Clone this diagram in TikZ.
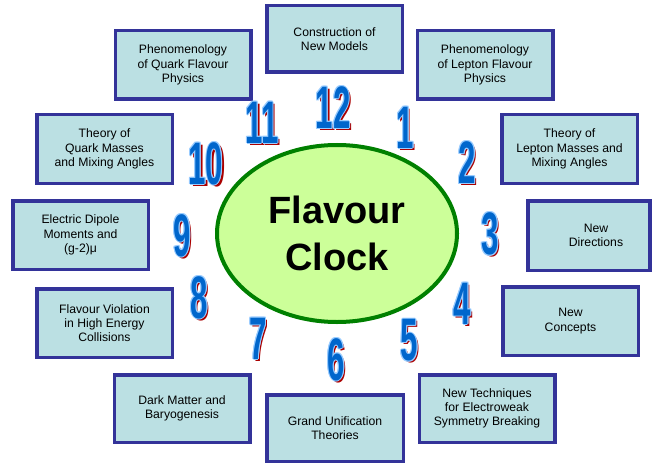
\documentclass[tikz,border=0pt]{standalone}
\usepackage{fontspec}
\setmainfont{Liberation Sans}
\usepackage{graphicx}
\usetikzlibrary{shapes.geometric}
\definecolor{boxfill}{RGB}{187,224,227}
\definecolor{boxline}{RGB}{51,51,153}
\definecolor{ellfill}{RGB}{204,255,153}
\definecolor{ellline}{RGB}{0,128,0}
\definecolor{numblue}{RGB}{0,102,204}
\definecolor{numedge}{RGB}{153,204,255}
\definecolor{numshadow}{RGB}{170,0,0}
\newsavebox\clkbox
\newcommand\clkdig[2]{\scalebox{0.52}[1]{\fontsize{60}{60}\selectfont\bfseries\color{#1}#2}}
\newcommand\clkcopy[4]{\rlap{\kern#1\raisebox{#2}[0pt][0pt]{\clkdig{#3}{#4}}}}
\newcommand\clocknum[1]{%
 \sbox\clkbox{\clkdig{numblue}{#1}}%
 \makebox[\wd\clkbox][l]{%
  \clkcopy{2.5pt}{-2pt}{numshadow}{#1}%
  \clkcopy{-1pt}{0pt}{numedge}{#1}%
  \clkcopy{1pt}{0pt}{numedge}{#1}%
  \clkcopy{0pt}{1pt}{numedge}{#1}%
  \clkcopy{0pt}{-1pt}{numedge}{#1}%
  \clkcopy{-0.7pt}{0.7pt}{numedge}{#1}%
  \clkcopy{0.7pt}{0.7pt}{numedge}{#1}%
  \clkcopy{-0.7pt}{-0.7pt}{numedge}{#1}%
  \clkcopy{0.7pt}{-0.7pt}{numedge}{#1}%
  \usebox\clkbox}}
\begin{document}
\begin{tikzpicture}[x=1pt,y=-1pt,
  boxst/.style={draw=boxline, line width=3.5pt, fill=boxfill,
    minimum width=135.5pt, minimum height=68.5pt, inner sep=2pt,
    align=center, font=\fontsize{12.2}{14.3}\selectfont},
  boxtext/.style={inner sep=0pt, align=center, font=\fontsize{12.2}{14.3}\selectfont},
  numst/.style={inner sep=0pt},
  clockst/.style={ellipse, draw=ellline, line width=4pt, fill=ellfill,
    minimum width=240pt, minimum height=177pt, inner sep=0pt, align=center,
    font=\fontsize{38}{47}\selectfont\bfseries}]
\useasboundingbox (0,0) rectangle (652,465);
\fill[white] (0,0) rectangle (652,465);
% boxes
\node[boxst, minimum width=135.5pt, minimum height=66.5pt] (b12) at (334.5,39) {Construction of\\New Models};
\node[boxst] (b11) at (183,65) {Phenomenology\\of Quark Flavour\\Physics};
\node[boxst] (b1) at (485,65) {Phenomenology\\of Lepton Flavour\\Physics};
\node[boxst] (b10) at (104.5,149) {Theory of\\Quark Masses\\and Mixing Angles};
\node[boxst] (b2) at (569.5,149) {Theory of\\Lepton Masses and\\Mixing Angles};
\node[boxst] (b9) at (80.5,235) {Electric Dipole\\Moments and\\(g-2)μ};
\node[boxst, minimum width=122pt, minimum height=69.5pt] (b3) at (589,235.5) {};
\node[boxtext] (b3t) at (596,235.5) {New\\Directions};
\node[boxst] (b8) at (104.5,323) {Flavour Violation\\in High Energy\\Collisions};
\node[boxst] (b4) at (570.5,321) {New\\Concepts};
\node[boxst, minimum height=67.5pt] (b7) at (182,408.5) {Dark Matter and\\Baryogenesis};
\node[boxst, minimum height=67.5pt] (b5) at (487,408.5) {New Techniques\\for Electroweak\\Symmetry Breaking};
\node[boxst, minimum width=136.5pt, minimum height=66.5pt] (b6) at (335,428) {Grand Unification\\Theories};
% centre
\node[clockst] (clock) at (337,233.5) {Flavour\\Clock};
% numerals
\node[numst] (n12) at (333,107.5) {\clocknum{12}};
\node[numst] (n11) at (262,122.5) {\clocknum{11}};
\node[numst] (n1) at (405,127.5) {\clocknum{1}};
\node[numst] (n2) at (467,162.5) {\clocknum{2}};
\node[numst] (n10) at (206,163.5) {\clocknum{10}};
\node[numst] (n3) at (490,234) {\clocknum{3}};
\node[numst] (n9) at (182,235.5) {\clocknum{9}};
\node[numst] (n8) at (199,297.5) {\clocknum{8}};
\node[numst] (n7) at (258,338.5) {\clocknum{7}};
\node[numst] (n4) at (462,303.5) {\clocknum{4}};
\node[numst] (n5) at (409,340.5) {\clocknum{5}};
\node[numst] (n6) at (336,359.5) {\clocknum{6}};
\end{tikzpicture}
\end{document}
